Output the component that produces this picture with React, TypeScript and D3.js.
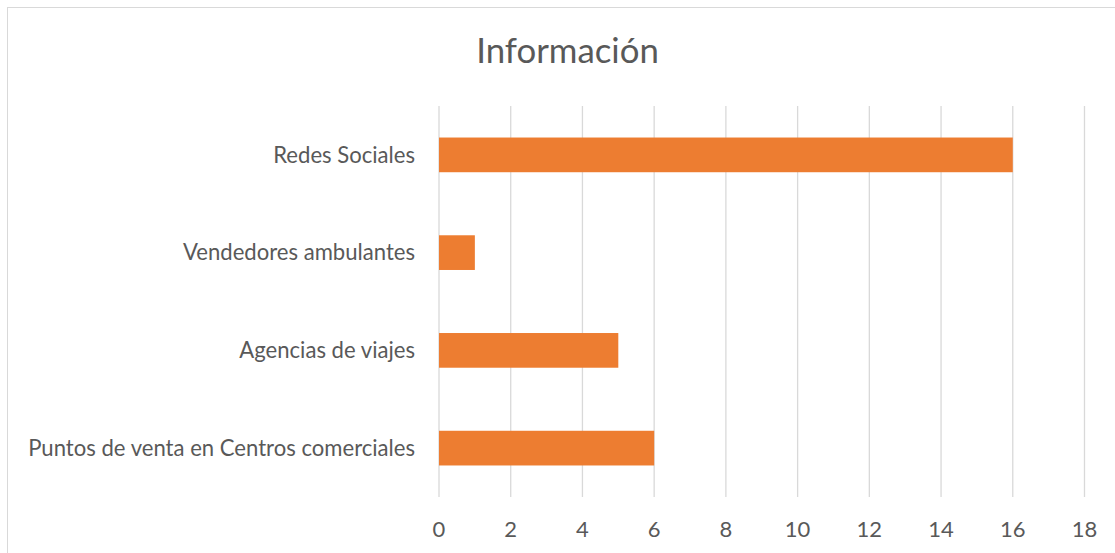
import React from "react";
import * as d3 from "d3";

const categories = [
  "Redes Sociales",
  "Vendedores ambulantes",
  "Agencias de viajes",
  "Puntos de venta en Centros comerciales",
];
const values = [16, 1, 5, 6];
const xTicks = [0, 2, 4, 6, 8, 10, 12, 14, 16, 18];
const title = "Información";

const W = 1115;
const H = 553;
const FONT = "Lato, 'Open Sans', sans-serif";

export default function App() {
  const x = d3.scaleLinear().domain([0, 18]).range([439, 1084.5]);
  const y = d3
    .scaleBand<string>()
    .domain(categories)
    .range([106, 497])
    .paddingInner(0.645)
    .paddingOuter(0.3225);
  const band = d3.scaleBand<string>().domain(categories).range([106, 497]);

  return (
    <svg
      width={W}
      height={H}
      style={{ position: "absolute", left: 0, top: 0, background: "#fff" }}
    >
      <rect x={7.5} y={7.5} width={W} height={H} fill="#fff" stroke="#d9d9d9" strokeWidth={1} />
      <text
        x={567.5}
        y={62.5}
        textAnchor="middle"
        fontFamily={FONT}
        fontSize={34.8}
        fill="#595959"
      >
        {title}
      </text>
      {xTicks.map((t) => (
        <line
          key={"g" + t}
          x1={x(t)}
          x2={x(t)}
          y1={106}
          y2={497}
          stroke="#d9d9d9"
          strokeWidth={1.3}
        />
      ))}
      {categories.map((c, i) => (
        <rect
          key={c}
          x={x(0)}
          y={y(c)}
          width={x(values[i]) - x(0)}
          height={y.bandwidth()}
          fill="#ED7D31"
        />
      ))}
      {categories.map((c) => (
        <text
          key={"l" + c}
          x={415}
          y={(band(c) as number) + band.bandwidth() / 2}
          dy="0.35em"
          textAnchor="end"
          fontFamily={FONT}
          fontSize={22.1}
          fill="#595959"
        >
          {c}
        </text>
      ))}
      {xTicks.map((t) => (
        <text
          key={"t" + t}
          x={x(t)}
          y={536.5}
          textAnchor="middle"
          fontFamily={FONT}
          fontSize={22}
          fill="#595959"
        >
          {t}
        </text>
      ))}
    </svg>
  );
}
